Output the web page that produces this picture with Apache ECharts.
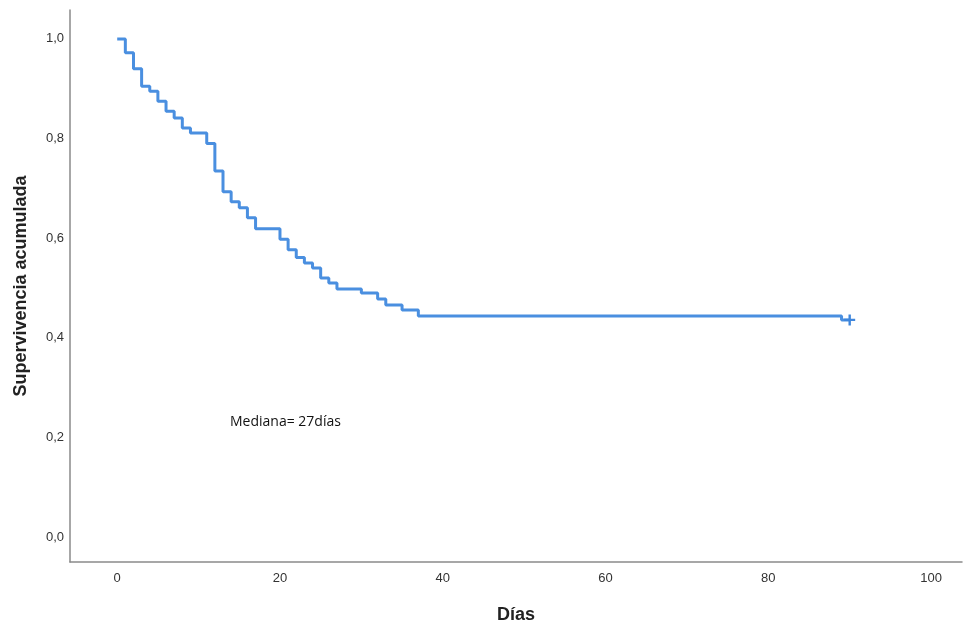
<!DOCTYPE html>
<html>
<head>
<meta charset="utf-8">
<script src="https://cdn.jsdelivr.net/npm/echarts@6/dist/echarts.min.js"></script>
<style>
html,body{margin:0;padding:0;background:#fff;}
#c{width:964px;height:627px;}
</style>
</head>
<body>
<div id="c"></div>
<script>
// Kaplan-Meier step curve (day, cumulative survival)
const days = [0,1,2,3,4,5,6,7,8,9,11,12,13,14,15,16,17,20,21,22,23,24,25,26,27,30,32,33,35,37,89,90];
const survival = [1.0,0.972,0.940,0.905,0.895,0.875,0.855,0.841,0.821,0.811,0.790,0.735,0.693,0.673,0.661,0.641,0.619,0.598,0.577,0.561,0.550,0.540,0.520,0.510,0.498,0.490,0.478,0.466,0.456,0.444,0.436,0.436];
// censored observations
const censorDays = [90];
const censorSurv = [0.436];
const xTicks = [0,20,40,60,80,100];
const yTicks = [0,0.2,0.4,0.6,0.8,1.0];
const xTitle = 'Días';
const yTitle = 'Supervivencia acumulada';
const note = 'Mediana= 27días';

const blue = '#4a8fe0';
const chart = echarts.init(document.getElementById('c'), null, {renderer:'canvas'});
chart.setOption({
  animation:false,
  backgroundColor:'#fff',
  grid:{left:70,right:2,top:10,bottom:65,containLabel:false,outerBoundsMode:'none'},
  xAxis:{
    type:'value',min:-5.8,max:103.8,
    splitLine:{show:false},
    axisLine:{show:true,onZero:false,lineStyle:{color:'#8a8a8a',width:1.5}},
    axisTick:{show:false},
    axisLabel:{customValues:xTicks,margin:10,color:'#333',fontFamily:'Liberation Sans',fontSize:13},
    name:xTitle,nameLocation:'middle',nameGap:44,
    nameTextStyle:{fontFamily:'Liberation Sans',fontWeight:'bold',fontSize:18,color:'#222'}
  },
  yAxis:{
    type:'value',min:-0.05,max:1.058,
    splitLine:{show:false},
    axisLine:{show:true,onZero:false,lineStyle:{color:'#8a8a8a',width:1.5}},
    axisTick:{show:false},
    axisLabel:{customValues:yTicks,margin:6,color:'#333',fontFamily:'Liberation Sans',fontSize:13,
      formatter:v=>v.toFixed(1).replace('.',',')},
    name:yTitle,nameLocation:'middle',nameGap:40,nameRotate:90,
    nameTextStyle:{fontFamily:'Liberation Sans',fontWeight:'bold',fontSize:18,color:'#222'}
  },
  series:[
    {type:'line',step:'end',showSymbol:false,symbol:'none',z:2,
     data:days.map((d,i)=>[d,survival[i]]),
     lineStyle:{color:blue,width:3}},
    {type:'scatter',symbol:'path://M4.5,0h2.5v4.5h4.5v2.5h-4.5v4.5h-2.5v-4.5h-4.5v-2.5h4.5z',symbolSize:11,z:3,
     data:censorDays.map((d,i)=>[d,censorSurv[i]]),
     itemStyle:{color:'#3f86dc',opacity:1}}
  ],
  graphic:[
    {type:'text',left:230,top:415,style:{text:note,font:'14px "Open Sans"',fill:'#111'}}
  ]
});
</script>
</body>
</html>
